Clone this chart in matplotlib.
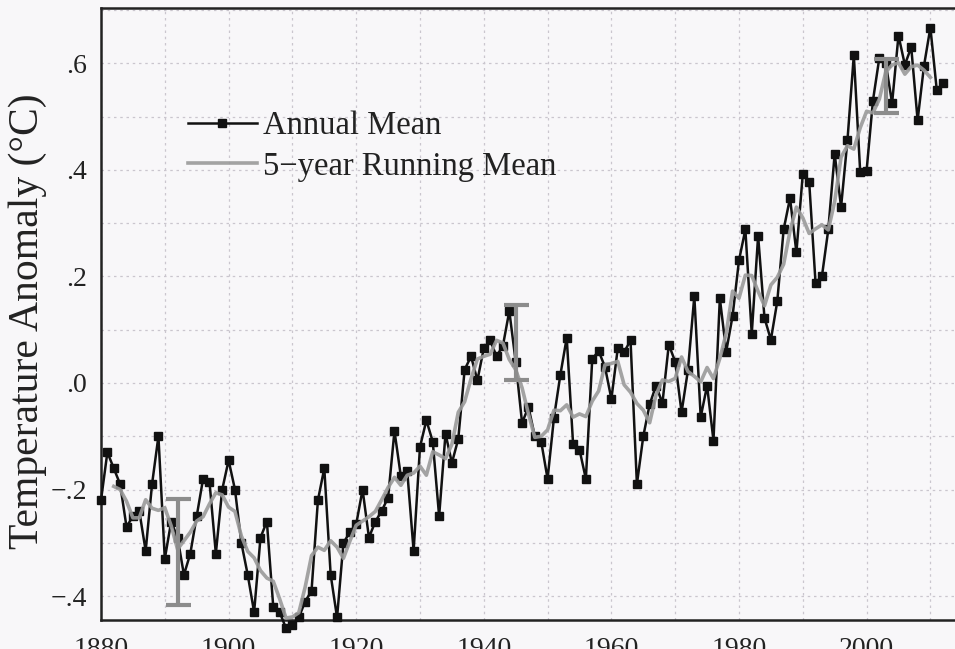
import matplotlib
matplotlib.use("Agg")
import matplotlib.pyplot as plt
import numpy as np
import pandas as pd

plt.rcParams['font.family'] = ['Liberation Serif', 'DejaVu Serif']

years = np.arange(1880, 2013)
annual = [
    -0.22, -0.13, -0.16, -0.19, -0.27, -0.25, -0.24, -0.315, -0.19, -0.10,   # 1880s
    -0.33, -0.26, -0.29, -0.36, -0.32, -0.25, -0.18, -0.185, -0.32, -0.20,   # 1890s
    -0.145, -0.20, -0.30, -0.36, -0.43, -0.29, -0.26, -0.42, -0.43, -0.46,   # 1900s
    -0.455, -0.44, -0.41, -0.39, -0.22, -0.16, -0.36, -0.44, -0.30, -0.28,   # 1910s
    -0.265, -0.20, -0.29, -0.26, -0.24, -0.215, -0.09, -0.175, -0.165, -0.315,  # 1920s
    -0.12, -0.07, -0.11, -0.25, -0.095, -0.15, -0.105, 0.025, 0.05, 0.005,   # 1930s
    0.065, 0.08, 0.05, 0.07, 0.135, 0.04, -0.075, -0.045, -0.10, -0.11,      # 1940s
    -0.18, -0.065, 0.015, 0.085, -0.115, -0.125, -0.18, 0.045, 0.06, 0.03,   # 1950s
    -0.03, 0.065, 0.058, 0.08, -0.19, -0.10, -0.04, -0.005, -0.038, 0.072,   # 1960s
    0.04, -0.055, 0.024, 0.163, -0.064, -0.005, -0.108, 0.159, 0.059, 0.126, # 1970s
    0.23, 0.288, 0.092, 0.276, 0.122, 0.081, 0.153, 0.288, 0.347, 0.245,    # 1980s
    0.392, 0.378, 0.188, 0.20, 0.288, 0.43, 0.33, 0.455, 0.615, 0.396,      # 1990s
    0.398, 0.53, 0.61, 0.60, 0.525, 0.652, 0.597, 0.63, 0.493, 0.595,       # 2000s
    0.667, 0.55, 0.562,                                                     # 2010s
]
# 5-year running mean of the annual values
running = pd.Series(annual, index=years).rolling(5, center=True).mean()

# uncertainty bars
err_years = [1892, 1945, 2003]
err_center = [-0.317, 0.076, 0.557]
err_half = [0.10, 0.07, 0.05]

fig = plt.figure(figsize=(9.55, 6.49), dpi=100)
fig.patch.set_facecolor('#f8f7f9')
ax = fig.add_axes([101/955, 1 - 620/649, 1 - 101/955, (620 - 8)/649])
ax.set_facecolor('#f8f7f9')

ax.plot(years, annual, color='#111111', lw=1.8, marker='s', ms=6,
        mfc='#111111', mec='#111111', clip_on=False, zorder=3,
        label='Annual Mean')
ax.plot(running.index, running.values, color='#9a9a9a', lw=2.6, alpha=0.9,
        zorder=4, label='5\u2212year Running Mean')
ax.errorbar(err_years, err_center, yerr=err_half, fmt='none', ecolor='#8c8c8c',
            elinewidth=3, capsize=9, capthick=3, zorder=5)

ax.set_xlim(1880, 2013.86)
ax.set_ylim(-0.4447, 0.7036)

ax.set_xticks(range(1880, 2001, 20))
ax.set_xticklabels([str(y) for y in range(1880, 2001, 20)])
ax.set_xticks(range(1880, 2014, 10), minor=True)
ax.set_yticks([-0.4, -0.2, 0.0, 0.2, 0.4, 0.6])
ax.set_yticklabels(['\u2212.4', '\u2212.2', '.0', '.2', '.4', '.6'])
ax.set_yticks(np.arange(-0.4, 0.71, 0.1), minor=True)
ax.tick_params(which='both', length=0)
ax.tick_params(axis='y', labelsize=20, pad=10, colors='#222222')
ax.tick_params(axis='x', labelsize=20, pad=12, colors='#222222')

ax.grid(which='both', color='#cac6ce', linestyle=(0, (2, 3)), lw=0.9)
ax.set_axisbelow(True)

for side in ['left', 'top', 'bottom']:
    ax.spines[side].set_linewidth(1.8)
    ax.spines[side].set_color('#222222')
ax.spines['right'].set_visible(False)

fig.text(0.029, 0.505, 'Temperature Anomaly (\u00b0C)', rotation=90,
         ha='center', va='center', fontsize=30, color='#222222')

leg = ax.legend(loc='upper left', bbox_to_anchor=(188/955, 1 - 111/649),
                bbox_transform=fig.transFigure, frameon=False, fontsize=23.5,
                handlelength=2.1, handletextpad=0.2, labelspacing=0.3,
                borderpad=0, borderaxespad=0, markerscale=0.9)
for t in leg.get_texts():
    t.set_color('#222222')

fig.savefig('out.png', dpi=100, facecolor=fig.get_facecolor())
